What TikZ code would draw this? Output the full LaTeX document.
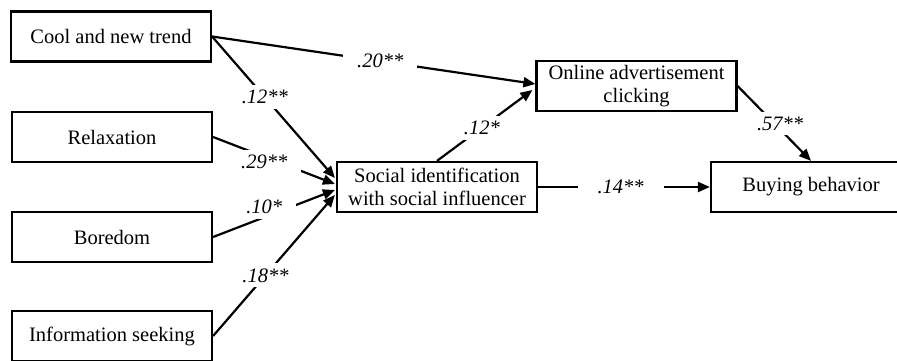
\documentclass[tikz,border=0pt]{standalone}
\usepackage{fontspec}
\setmainfont{Liberation Serif}
\usetikzlibrary{arrows.meta,calc}
\begin{document}
\begin{tikzpicture}[x=1pt,y=-1pt,
  box/.style={draw,line width=2.2pt,minimum width=200pt,minimum height=50pt,
    inner sep=0pt,align=center,font=\fontsize{20.5}{23.5}\selectfont},
  path/.style={line width=2.2pt,-{Triangle[length=12pt,width=10pt]}},
  coef/.style={fill=white,inner xsep=14pt,inner ysep=5pt,
    font=\fontsize{20.5}{23.5}\selectfont\itshape}]
  \useasboundingbox (0,0) rectangle (897,361);
  \clip (0,0) rectangle (897,361);

  % variables
  \node[box] (cool)   at (111,36.5) {Cool and new trend};
  \node[box] (relax)  at (112,137)  {Relaxation};
  \node[box] (bored)  at (112,237)  {Boredom};
  \node[box] (info)   at (112,336)  {Information seeking};
  \node[box] (social) at (437,187)  {Social identification\\with social influencer};
  \node[box] (online) at (636.5,86) {Online advertisement\\clicking};
  \node[box] (buy)    at (811,187)  {Buying behavior};

  % arrow end points on the receiving boxes
  \coordinate (s1) at ($(social.west)+(-1,-9)$);
  \coordinate (s2) at ($(social.west)+(-1,-3)$);
  \coordinate (s3) at ($(social.west)+(-1,3)$);
  \coordinate (s4) at ($(social.west)+(-1,8)$);
  \coordinate (o1) at ($(online.west)+(0,-2)$);
  \coordinate (o2) at ($(online.west)+(-3,4)$);

  % paths
  \draw[path] (cool.east) -- (o1)
    node[coef,pos=0.52] {.20**};
  \draw[path] (cool.east) -- (s1)
    node[coef,pos=0.43] {.12**};
  \draw[path] (relax.east) -- (s2)
    node[coef,pos=0.42,yshift=-5pt] {.29**};
  \draw[path] (bored.east) -- (s3)
    node[coef,pos=0.42,yshift=10pt] {.10*};
  \draw[path] (info.east) -- (s4)
    node[coef,pos=0.43] {.18**};
  \draw[path] (social.north) -- (o2)
    node[coef,pos=0.47] {.12*};
  \draw[path] (online.east) -- (buy.north)
    node[coef,pos=0.58,yshift=6pt] {.57**};
  \draw[path] (social.east) -- (buy.west)
    node[coef,pos=0.48,inner xsep=20pt] {.14**};
\end{tikzpicture}
\end{document}
